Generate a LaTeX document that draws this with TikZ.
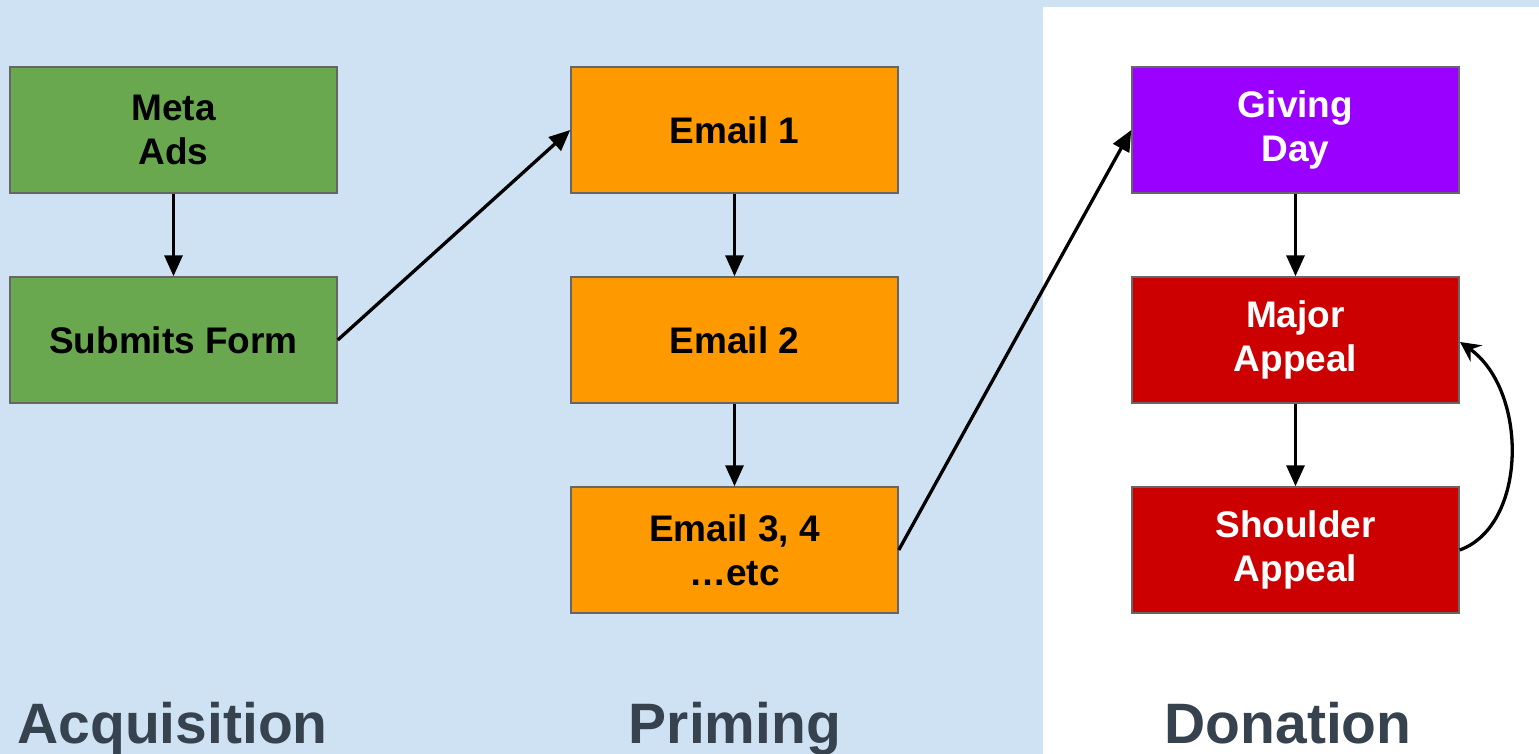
\documentclass[tikz,border=0pt]{standalone}
\usepackage{fontspec}
\setmainfont{Liberation Sans}
\usetikzlibrary{arrows.meta}
\definecolor{bgblue}{HTML}{CFE2F3}
\definecolor{gbox}{HTML}{6AA84F}
\definecolor{obox}{HTML}{FF9900}
\definecolor{pbox}{HTML}{9900FF}
\definecolor{rbox}{HTML}{CC0000}
\definecolor{bord}{HTML}{666666}
\definecolor{ttl}{HTML}{36434E}
\tikzset{
  box/.style={draw=bord, line width=1.5pt, minimum width=327pt, minimum height=126pt,
    inner sep=0pt, align=center, font=\fontsize{37}{44}\selectfont\bfseries},
  gb/.style={box, fill=gbox, text=black},
  ob/.style={box, fill=obox, text=black},
  pb/.style={box, fill=pbox, text=white},
  rb/.style={box, fill=rbox, text=white},
  conn/.style={line width=3.3pt, -{Triangle[length=21pt,width=18pt]}},
  loopconn/.style={line width=3.3pt, -{Stealth[length=20pt,width=20pt,inset=7pt]}},
  ttlstyle/.style={text=ttl, font=\fontsize{57}{60}\selectfont\bfseries, anchor=base, inner sep=0pt}
}
\begin{document}
\begin{tikzpicture}[x=1pt,y=-1pt]
\useasboundingbox (0,0) rectangle (1539,754);
\fill[bgblue] (0,0) rectangle (1539,754);
\fill[white] (1043,7) rectangle (1539,754);
% Acquisition
\node[gb] (meta) at (173.5,130) {Meta\\Ads};
\node[gb] (form) at (173.5,340) {Submits Form};
% Priming
\node[ob] (e1) at (734.5,130) {Email 1};
\node[ob] (e2) at (734.5,340) {Email 2};
\node[ob] (e3) at (734.5,550) {Email 3, 4\\\ldots etc};
% Donation
\node[pb] (gd) at (1295.5,130) {Giving\\Day};
\node[rb] (ma) at (1295.5,340) {Major\\Appeal};
\node[rb] (sa) at (1295.5,550) {Shoulder\\Appeal};
% connectors
\draw[conn] (meta.south) -- (form.north);
\draw[conn] (form.east) -- (e1.west);
\draw[conn] (e1.south) -- (e2.north);
\draw[conn] (e2.south) -- (e3.north);
\draw[conn] (e3.east) -- (gd.west);
\draw[conn] (gd.south) -- (ma.north);
\draw[conn] (ma.south) -- (sa.north);
\coordinate (loopend) at (1460,342);
\draw[loopconn] (sa.east) .. controls (1528,525) and (1528,390) .. (loopend);
% titles
\node[ttlstyle] (t1) at (172.5,743) {Acquisition};
\node[ttlstyle] (t2) at (735,743) {Priming};
\node[ttlstyle] (t3) at (1288,743) {Donation};
\end{tikzpicture}
\end{document}
